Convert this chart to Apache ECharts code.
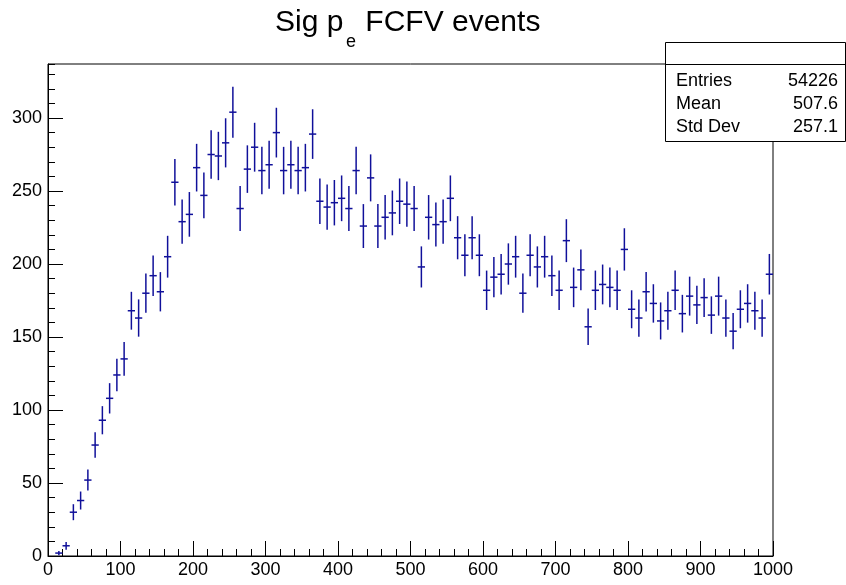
<!DOCTYPE html>
<html><head><meta charset="utf-8">
<script src="https://cdn.jsdelivr.net/npm/echarts@6/dist/echarts.min.js"></script>
<style>html,body{margin:0;padding:0;background:#fff}#c{width:846px;height:585px}</style>
</head><body><div id="c"></div>
<script>
// Histogram: 100 bins of width 10 from 0 to 1000
const binLow = 0;
const binWidth = 10;
const counts = [
  0, 2, 7, 30, 38, 52, 76, 93, 108, 124,
  135, 168, 163, 180, 192, 181, 205, 256, 229, 234,
  266, 247, 275, 274, 283, 304, 238, 265, 280, 264,
  268, 290, 264, 268, 264, 266, 289, 243, 239, 242,
  245, 238, 264, 226, 259, 226, 232, 235, 243, 241,
  238, 198, 232, 227, 229, 245, 218, 206, 218, 206,
  182, 191, 193, 200, 205, 180, 206, 198, 205, 192,
  182, 216, 184, 196, 157, 182, 186, 184, 182, 210,
  169, 163, 181, 173, 161, 168, 182, 166, 178, 172,
  177, 165, 178, 163, 154, 169, 173, 168, 163, 193
];
const xRange = [0, 1000];
const yRange = [0, 337];
const titleMain = 'Sig p';
const titleSub = 'e';
const titleRest = ' FCFV events';
const statsLabels = ['Entries', 'Mean', 'Std Dev'];
const statsValues = ['54226', '507.6', '257.1'];

const FONT = '"Liberation Sans", Arial, Helvetica, sans-serif';
const COLOR = '#10109a';

const data = [];
counts.forEach((v, i) => {
  if (v > 0) data.push([binLow + binWidth * (i + 0.5), v, Math.sqrt(v)]);
});

const chart = echarts.init(document.getElementById('c'), null, {renderer: 'canvas'});

const gridL = 48, gridR = 773, gridT = 64, gridB = 556;
const boxX = 665, boxY = 42, boxW = 180, boxH = 99;

const graphics = [
  {type: 'text', x: 275, y: 23, style: {text: titleMain, font: '30px ' + FONT, fill: '#000', verticalAlign: 'middle'}},
  {type: 'text', x: 346, y: 42, style: {text: titleSub, font: '18px ' + FONT, fill: '#000', verticalAlign: 'middle'}},
  {type: 'text', x: 357, y: 23, style: {text: titleRest, font: '30px ' + FONT, fill: '#000', verticalAlign: 'middle'}},
  {type: 'rect', shape: {x: boxX + 0.5, y: boxY + 0.5, width: boxW, height: boxH}, style: {fill: '#fff', stroke: '#000', lineWidth: 1}, z: 10},
  {type: 'line', shape: {x1: boxX, y1: gridT + 0.5, x2: boxX + boxW, y2: gridT + 0.5}, style: {stroke: '#000', lineWidth: 1}, z: 11}
];
statsLabels.forEach((lab, i) => {
  const y = 81 + 23 * i;
  graphics.push({type: 'text', x: 676, y: y, z: 12, style: {text: lab, font: '18px ' + FONT, fill: '#000', verticalAlign: 'middle', align: 'left'}});
  graphics.push({type: 'text', x: 838, y: y, z: 12, style: {text: statsValues[i], font: '18px ' + FONT, fill: '#000', verticalAlign: 'middle', align: 'right'}});
});

const axisCommon = {
  type: 'value',
  axisLine: {show: true, lineStyle: {color: '#000', width: 1}},
  splitLine: {show: false},
  minorSplitLine: {show: false}
};
const plainNum = v => String(v);

chart.setOption({
  animation: false,
  backgroundColor: '#fff',
  grid: {left: gridL, right: 846 - gridR, top: gridT, bottom: 585 - gridB, show: true, borderColor: '#000', borderWidth: 1, backgroundColor: 'transparent'},
  xAxis: [Object.assign({}, axisCommon, {
    min: xRange[0], max: xRange[1], interval: 100,
    axisTick: {show: true, inside: true, length: 15, lineStyle: {color: '#000'}},
    minorTick: {show: true, splitNumber: 5, length: 7, lineStyle: {color: '#000'}},
    axisLabel: {color: '#000', fontSize: 18, fontFamily: FONT, margin: 5, formatter: plainNum}
  })],
  yAxis: [Object.assign({}, axisCommon, {
    min: yRange[0], max: yRange[1], interval: 50, position: 'left',
    axisTick: {show: true, inside: true, length: 15, lineStyle: {color: '#000'}},
    axisLabel: {color: '#000', fontSize: 18, fontFamily: FONT, margin: 6, showMaxLabel: false, formatter: plainNum}
  }), Object.assign({}, axisCommon, {
    min: yRange[0], max: yRange[1], interval: 10, position: 'left', offset: 0,
    axisLine: {show: false},
    axisTick: {show: true, inside: true, length: 7, lineStyle: {color: '#000'}},
    axisLabel: {show: false}
  })],
  series: [{
    type: 'custom',
    xAxisIndex: 0, yAxisIndex: 0,
    clip: true,
    data: data,
    renderItem: function (params, api) {
      const x = api.value(0), v = api.value(1), e = api.value(2);
      const c = api.coord([x, v]);
      const lo = api.coord([x, Math.max(0, v - e)]);
      const hi = api.coord([x, v + e]);
      const l = api.coord([x - binWidth / 2, v]);
      const r = api.coord([x + binWidth / 2, v]);
      const st = {stroke: COLOR, lineWidth: 1.5};
      return {type: 'group', children: [
        {type: 'line', shape: {x1: c[0], y1: lo[1], x2: c[0], y2: hi[1]}, style: st},
        {type: 'line', shape: {x1: l[0], y1: c[1], x2: r[0], y2: c[1]}, style: st}
      ]};
    }
  }],
  graphic: graphics
});
</script>
</body></html>
